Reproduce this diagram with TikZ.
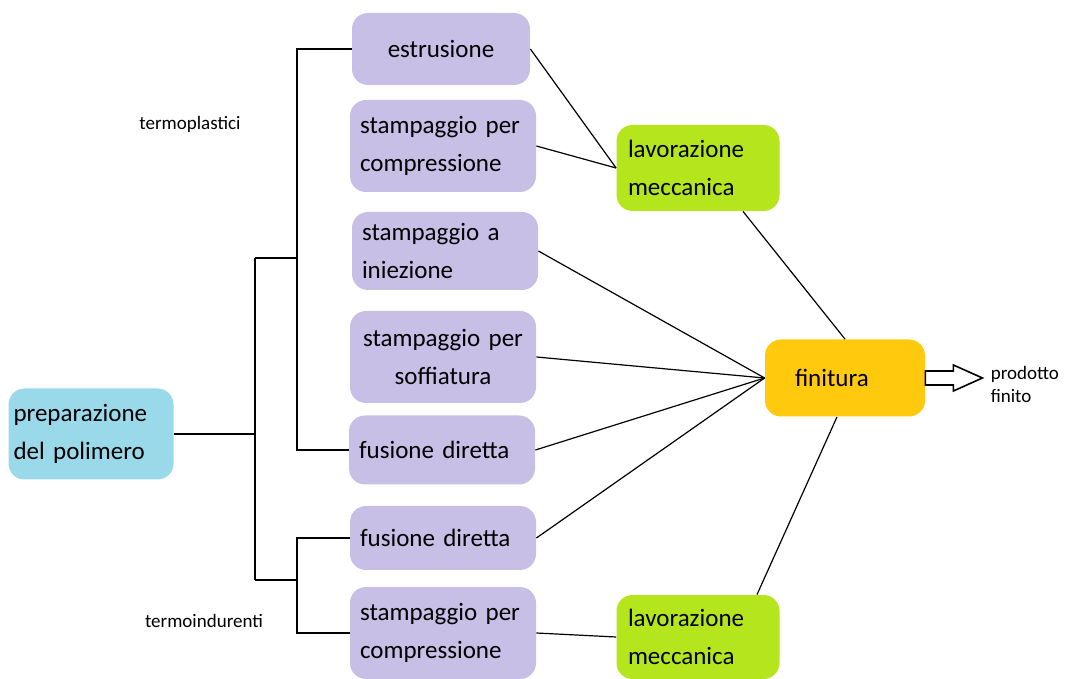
\documentclass[tikz,border=0pt]{standalone}
\usepackage{fontspec}
\setmainfont{Carlito}
\usepackage{tikz}
\usetikzlibrary{shapes.geometric, arrows}
\newcommand{\testobox}{\fontsize{12.5}{19}\selectfont}
\newcommand{\testonota}{\fontsize{9.5}{12.5}\selectfont}
\definecolor{lilla}{HTML}{C8BFE7}
\definecolor{azzurro}{HTML}{99D9EA}
\definecolor{verde}{HTML}{B5E61D}
\definecolor{arancio}{HTML}{FFC90E}
\tikzstyle{startbox} = [rectangle, rounded corners=8pt, text width=77.5pt, inner xsep=2.5pt, minimum height=45.5pt, align=left, fill=azzurro, font=\testobox]
\tikzstyle{process} = [rectangle, rounded corners=8pt, text width=83pt, inner xsep=5pt, minimum height=46pt, align=left, fill=lilla, font=\testobox]
\tikzstyle{mecc} = [rectangle, rounded corners=8pt, text width=70pt, inner xsep=5.75pt, minimum height=43pt, align=left, fill=verde, font=\testobox]
\tikzstyle{finish} = [rectangle, rounded corners=8pt, text width=50pt, inner xsep=15pt, minimum height=38.5pt, align=left, fill=arancio, font=\testobox]
\tikzstyle{note} = [align=left, inner sep=0pt, font=\testonota]
\tikzstyle{tree} = [line width=1pt]
\tikzstyle{link} = [line width=0.6pt]
\tikzstyle{hollow} = [line width=0.8pt, fill=white, line join=miter]

\begin{document}
\begin{tikzpicture}[x=0.5pt, y=-0.5pt]
\useasboundingbox (0,0) rectangle (1067,679);

\node(prep) [startbox] at (91,434) {preparazione\\del polimero};

\node(estr) [process, text width=79pt, align=center, minimum height=36pt] at (441,49) {estrusione};
\node(compr1) [process] at (443,146) {stampaggio per\\compressione};
\node(iniez) [process, minimum height=39pt] at (445,251) {stampaggio a\\iniezione};
\node(soff) [process, align=center] at (443,357) {stampaggio per\\soffiatura};
\node(fus1) [process, minimum height=34.5pt] at (442,450) {fusione diretta};
\node(fus2) [process, minimum height=32pt] at (443,538) {fusione diretta};
\node(compr2) [process] at (443,633) {stampaggio per\\compressione};

\node(lav1) [mecc] at (698,168) {lavorazione\\meccanica};
\node(lav2) [mecc, minimum height=42pt] at (698,637) {lavorazione\\meccanica};
\node(fin) [finish] at (845,378) {finitura\\[-3pt]};

\node(termop) [note] at (190,124) {termoplastici};
\node(termoi) [note] at (204,621) {termoindurenti};

% albero di sinistra
\coordinate (tthermo) at (255,258);
\coordinate (tset) at (255,580);
\coordinate (bthermo) at (297,258);
\coordinate (bset) at (297,580);
\draw[tree] (tthermo) -- (tset);
\draw[tree] (prep.east) -- (prep.east -| tthermo);
\draw[tree] (tthermo) -- (bthermo);
\draw[tree] (tset) -- (bset);
\draw[tree] (estr.west) -| (bthermo) |- (fus1.west);
\draw[tree] (fus2.west) -| (bset) |- (compr2.west);

% collegamenti
\draw[link] (estr.east) -- (lav1.west);
\draw[link] (compr1.east) -- (lav1.west);
\draw[link] ([xshift=22.5pt]lav1.south) -- (fin.north);
\draw[link] (iniez.east) -- (fin.west);
\draw[link] (soff.east) -- (fin.west);
\draw[link] (fus1.east) -- (fin.west);
\draw[link] (fus2.east) -- (fin.west);
\draw[link] ([xshift=-4pt]fin.south) -- ([xshift=29.5pt]lav2.north);
\draw[link] (compr2.east) -- (lav2.west);

% freccia finale
\coordinate (prodtip) at ([xshift=28.5pt]fin.east);
\draw[hollow] (fin.east) ++(0,-7) -- ++(28,0) -- ++(0,-6) -- (prodtip) -- ++(-29,13) -- ++(0,-6) -- ++(-28,0) -- cycle;
\node(prod) [note, anchor=west, text depth=0pt] at ([xshift=4pt, yshift=-3pt]prodtip) {prodotto\\[-1pt]finito};
\end{tikzpicture}
\end{document}
